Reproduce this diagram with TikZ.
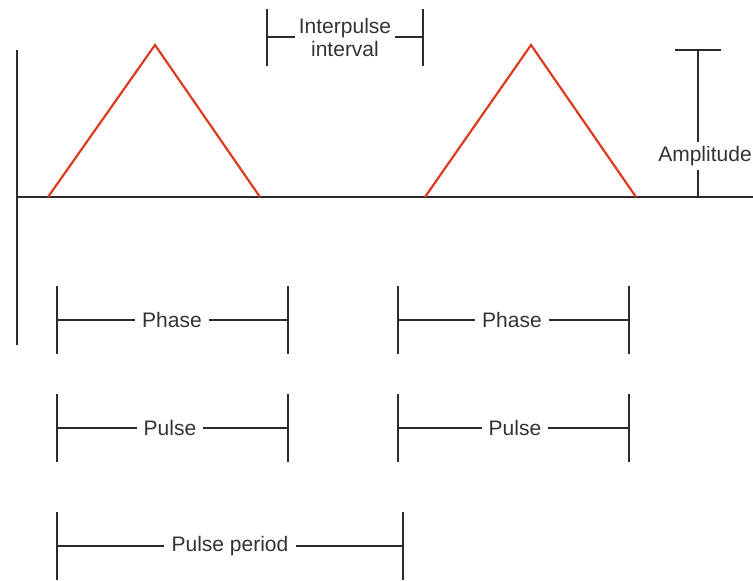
\documentclass[tikz,border=0pt]{standalone}
\usepackage{fontspec}
\setmainfont{Liberation Sans}
\usetikzlibrary{positioning,calc}
\definecolor{pwRed}{HTML}{DD3A22}
\definecolor{pwInk}{HTML}{2B2B2B}
\definecolor{pwText}{HTML}{333333}

\begin{document}
\begin{tikzpicture}[
  x=1pt, y=-1pt,
  eje/.style={draw=pwInk, line width=1.9pt},
  pulso/.style={draw=pwRed, line width=2.2pt, line join=miter},
  cota/.style={draw=pwInk, line width=1.8pt},
  lbl/.style={font=\fontsize{21}{23}\selectfont, text=pwText, inner xsep=7pt, inner ysep=2pt, align=center}
]
\useasboundingbox (0,0) rectangle (753,581);

% axes
\coordinate (ytop) at (17,50);
\coordinate (ybot) at (17,345);
\coordinate (x0) at (17,197);
\coordinate (xend) at (753,197);
\draw[eje] (ytop) -- (ybot);
\draw[eje] (x0) -- (xend);

% pulses
\coordinate (p1a) at (48,197);
\coordinate (p1b) at (155,45);
\coordinate (p1c) at (260,197);
\coordinate (p2a) at (425,197);
\coordinate (p2b) at (531,45);
\coordinate (p2c) at (636,197);
\draw[pulso] (p1a) -- (p1b) -- (p1c);
\draw[pulso] (p2a) -- (p2b) -- (p2c);

% interpulse interval
\coordinate (gapl) at (267,37);
\coordinate (gapr) at (423,37);
\node[lbl, inner xsep=4pt] (gap) at (345,37) {Interpulse\\interval};
\draw[cota] (gapl) -- (gap) -- (gapr);
\foreach \c in {gapl,gapr}
  \draw[cota] ($(\c)+(0,-28)$) -- ($(\c)+(0,29)$);

% amplitude
\coordinate (amptop) at (698,50);
\coordinate (ampbot) at (698,197);
\node[lbl, inner ysep=4pt] (amp) at (705,156) {Amplitude};
\draw[cota] (675,50) -- (721,50);
\draw[cota] (amptop) -- (amptop |- amp.north);
\draw[cota] (amptop |- amp.south) -- (ampbot);

% phase
\coordinate (phaseAl) at (57,320);
\coordinate (phaseAr) at (288,320);
\node[lbl] (phaseA) at (172,320) {Phase};
\draw[cota] (phaseAl) -- (phaseA) -- (phaseAr);
\coordinate (phaseBl) at (398,320);
\coordinate (phaseBr) at (629,320);
\node[lbl] (phaseB) at (512,320) {Phase};
\draw[cota] (phaseBl) -- (phaseB) -- (phaseBr);

% pulse
\coordinate (pulseAl) at (57,428);
\coordinate (pulseAr) at (288,428);
\node[lbl] (pulseA) at (170,428) {Pulse};
\draw[cota] (pulseAl) -- (pulseA) -- (pulseAr);
\coordinate (pulseBl) at (398,428);
\coordinate (pulseBr) at (629,428);
\node[lbl] (pulseB) at (515,428) {Pulse};
\draw[cota] (pulseBl) -- (pulseB) -- (pulseBr);

% pulse period
\coordinate (periodl) at (57,546);
\coordinate (periodr) at (403,546);
\node[lbl] (period) at (230,546) {Pulse period};
\draw[cota] (periodl) -- (period) -- (periodr);

\foreach \c in {phaseAl,phaseAr,phaseBl,phaseBr,pulseAl,pulseAr,pulseBl,pulseBr,periodl,periodr}
  \draw[cota] ($(\c)+(0,-34)$) -- ($(\c)+(0,34)$);

\end{tikzpicture}
\end{document}
